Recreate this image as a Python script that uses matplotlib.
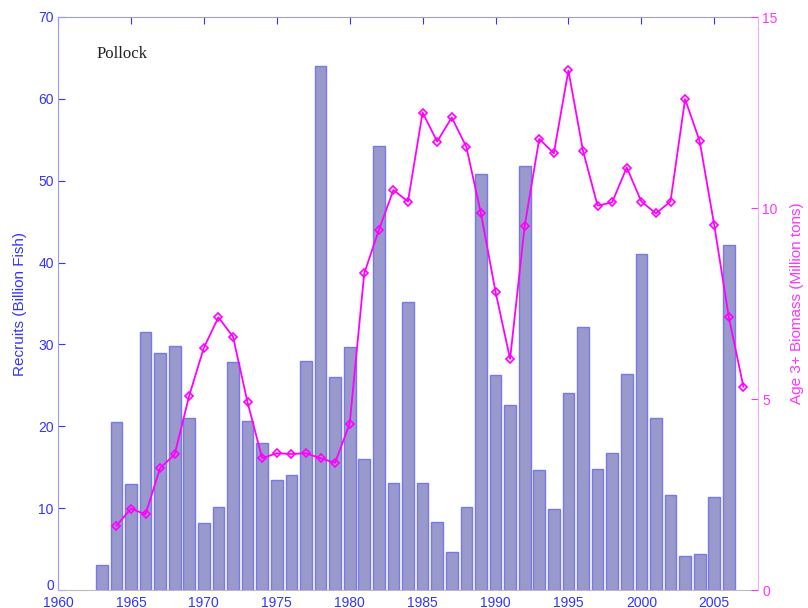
import matplotlib
matplotlib.use("Agg")
import matplotlib.pyplot as plt

years_rec = list(range(1963, 2007))
recruits = [3.0, 20.5, 13.0, 31.5, 29.0, 29.8, 21.0, 8.2, 10.2, 27.8,
            20.6, 18.0, 13.4, 14.0, 28.0, 64.0, 26.0, 29.7, 16.0, 54.3,
            13.1, 35.2, 13.1, 8.3, 4.7, 10.2, 50.8, 26.3, 22.6, 51.8,
            14.6, 9.9, 24.1, 32.1, 14.8, 16.7, 26.4, 41.0, 21.0, 11.6,
            4.2, 4.4, 11.4, 42.1]

years_bio = list(range(1964, 2008))
biomass = [1.68, 2.13, 1.98, 3.19, 3.55, 5.09, 6.34, 7.14, 6.63, 4.91,
           3.45, 3.58, 3.56, 3.58, 3.45, 3.33, 4.35, 8.29, 9.42, 10.47,
           10.17, 12.5, 11.74, 12.37, 11.6, 9.86, 7.81, 6.05, 9.53, 11.81,
           11.43, 13.6, 11.5, 10.06, 10.15, 11.06, 10.17, 9.86, 10.17, 12.85,
           11.75, 9.55, 7.14, 5.32]

xticks = [1960, 1965, 1970, 1975, 1980, 1985, 1990, 1995, 2000, 2005]
yticks_left = [0, 10, 20, 30, 40, 50, 60, 70]
yticks_right = [0, 5, 10, 15]

blue = "#3333ff"
blue_spine = "#9999ff"
pink_text = "#ff33ff"
pink_spine = "#ffaaff"

plt.rcParams['font.family'] = ['Liberation Sans', 'DejaVu Sans']

fig = plt.figure(figsize=(8.08, 6.08), dpi=100)
ax = fig.add_axes([58/808, 18/608, 700/808, 573/608])

ax.bar(years_rec, recruits, width=0.8, color="#9999cc", edgecolor="#7777ee",
       linewidth=1.0, zorder=2)
ax.set_xlim(1960, 2008)
ax.set_ylim(0, 70)
ax.set_xticks(xticks)
ax.set_yticks(yticks_left)
ax.tick_params(axis='both', direction='in', colors=blue, labelsize=10,
               length=5, pad=3)
ax.tick_params(axis='x', top=True, pad=4)
ax.tick_params(axis='y', right=False)
for s in ['left', 'top']:
    ax.spines[s].set_color(blue_spine)
ax.spines['bottom'].set_color("#bbbbbb")
ax.spines['right'].set_visible(False)
ax.set_ylabel("Recruits (Billion Fish)", color=blue, fontsize=11, labelpad=8)
ax.text(0.055, 0.935, "Pollock", transform=ax.transAxes, fontsize=12,
        family=['Liberation Serif'], color="#222222", va='center')

fig.canvas.draw()
ax.get_yticklabels()[0].set_va('baseline')

ax2 = ax.twinx()
ax2.plot(years_bio, biomass, color="#ff00ff", linewidth=1.3, marker='D',
         markersize=4.5, markerfacecolor='none', markeredgecolor="#ff00ff",
         markeredgewidth=1.2, zorder=3)
ax2.set_ylim(0, 15)
ax2.set_yticks(yticks_right)
ax2.tick_params(axis='y', direction='in', colors=pink_text, labelsize=10,
                length=5, pad=3)
ax2.spines['right'].set_color(pink_spine)
for s in ['left', 'top', 'bottom']:
    ax2.spines[s].set_visible(False)
ax2.set_ylabel("Age 3+ Biomass (Million tons)", color=pink_text, fontsize=11,
               labelpad=9)

fig.savefig("out.png", dpi=100)
